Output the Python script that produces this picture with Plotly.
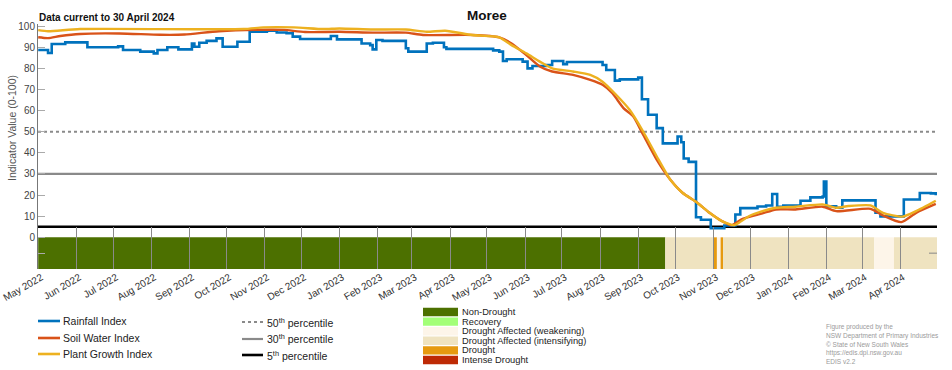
import plotly.graph_objects as go

# ---------------- data ----------------
rain_dates = ["2022-05-01", "2022-05-09", "2022-05-12", "2022-05-23", "2022-06-10", "2022-07-05",
              "2022-07-09", "2022-07-23", "2022-08-03", "2022-08-06", "2022-08-14", "2022-08-23",
              "2022-09-03", "2022-09-05", "2022-09-09", "2022-09-15", "2022-09-23", "2022-09-28",
              "2022-10-10", "2022-10-20", "2022-11-03", "2022-11-11", "2022-11-19", "2022-11-24",
              "2022-11-30", "2022-12-25", "2022-12-30", "2023-01-19", "2023-01-26", "2023-01-28",
              "2023-01-31", "2023-02-05", "2023-02-24", "2023-02-26", "2023-03-13", "2023-03-18",
              "2023-03-27", "2023-03-29", "2023-05-06", "2023-05-11", "2023-05-14", "2023-05-17",
              "2023-05-30", "2023-06-03", "2023-06-07", "2023-06-18", "2023-06-23", "2023-07-02",
              "2023-07-05", "2023-08-03", "2023-08-06", "2023-08-13", "2023-08-17", "2023-09-01",
              "2023-09-04", "2023-09-09", "2023-09-16", "2023-09-21", "2023-10-03", "2023-10-06",
              "2023-10-08", "2023-10-12", "2023-10-18", "2023-10-22", "2023-10-30", "2023-11-10",
              "2023-11-19", "2023-11-23", "2023-12-07", "2023-12-14", "2023-12-19", "2023-12-23",
              "2023-12-28", "2024-01-11", "2024-01-19", "2024-01-29", "2024-01-30", "2024-02-01",
              "2024-02-09", "2024-02-14", "2024-03-12", "2024-03-16", "2024-04-04", "2024-04-17",
              "2024-04-26", "2024-04-30"]
rain_vals = [88.7, 87.3, 91.5, 92.3, 90.0, 90.4,
             88.7, 87.9, 87.1, 88.7, 90.0, 89.0,
             91.8, 90.2, 92.1, 93.0, 94.2, 90.2,
             92.6, 97.3, 97.8, 97.0, 96.6, 95.0,
             93.9, 95.3, 93.7, 91.8, 91.0, 89.0,
             93.4, 93.0, 89.5, 87.9, 91.8, 92.1,
             90.0, 89.2, 88.5, 87.9, 83.5, 84.3,
             83.2, 80.0, 81.1, 81.6, 83.5, 82.0,
             83.0, 81.6, 79.2, 74.2, 74.8, 75.6,
             65.4, 58.0, 51.7, 44.5, 47.7, 45.0,
             37.3, 35.7, 9.5, 8.3, 4.3, 5.6,
             10.8, 13.8, 14.6, 15.1, 20.5, 14.5,
             15.1, 17.3, 18.9, 19.3, 26.4, 14.7,
             14.0, 17.5, 11.6, 9.9, 17.9, 21.0,
             20.8, 19.9]

soil_dates = ["2022-05-01", "2022-05-09", "2022-05-19", "2022-06-04", "2022-07-06", "2022-08-08",
              "2022-08-28", "2022-09-25", "2022-11-05", "2022-11-17", "2022-12-04", "2023-01-01",
              "2023-01-28", "2023-02-24", "2023-03-10", "2023-04-19", "2023-05-11", "2023-05-21",
              "2023-06-02", "2023-06-13", "2023-06-23", "2023-07-10", "2023-07-24", "2023-08-03",
              "2023-08-11", "2023-08-20", "2023-08-28", "2023-09-05", "2023-09-16", "2023-09-27",
              "2023-10-07", "2023-10-19", "2023-10-29", "2023-11-08", "2023-11-16", "2023-11-24",
              "2023-12-11", "2023-12-22", "2024-01-07", "2024-01-29", "2024-02-09", "2024-03-08",
              "2024-03-18", "2024-04-02", "2024-04-14", "2024-04-30"]
soil_vals = [94.7, 94.3, 95.3, 96.3, 96.5, 95.9,
             96.0, 97.6, 98.3, 98.2, 97.2, 97.3,
             96.9, 96.9, 95.8, 95.8, 94.7, 91.8,
             86.3, 80.9, 78.5, 76.9, 74.5, 72.2,
             68.2, 61.2, 57.2, 48.6, 36.8, 27.4,
             21.1, 16.4, 11.6, 7.7, 5.7, 8.5,
             11.3, 13.2, 13.2, 14.5, 12.4, 13.5,
             10.4, 7.2, 11.6, 15.8]

plant_dates = ["2022-05-01", "2022-05-09", "2022-06-04", "2022-10-15", "2022-10-31", "2022-11-25",
               "2022-12-19", "2023-01-01", "2023-01-28", "2023-02-24", "2023-03-13", "2023-03-28",
               "2023-04-19", "2023-05-11", "2023-05-21", "2023-06-02", "2023-06-13", "2023-06-23",
               "2023-07-10", "2023-07-24", "2023-08-03", "2023-08-14", "2023-08-25", "2023-09-05",
               "2023-09-16", "2023-09-27", "2023-10-07", "2023-10-19", "2023-10-29", "2023-11-08",
               "2023-11-18", "2023-11-22", "2023-11-30", "2023-12-11", "2023-12-22", "2024-01-07",
               "2024-01-29", "2024-02-09", "2024-02-19", "2024-03-08", "2024-03-18", "2024-04-03",
               "2024-04-14", "2024-04-30"]
plant_vals = [98.1, 97.6, 98.6, 98.6, 99.4, 99.4,
              98.6, 98.9, 98.4, 98.4, 97.3, 97.8,
              95.8, 94.7, 91.0, 87.1, 83.2, 80.0,
              78.5, 76.9, 73.7, 67.5, 60.4, 50.1,
              38.4, 27.4, 21.1, 16.4, 11.6, 7.7,
              5.7, 6.9, 10.0, 12.4, 14.0, 14.5,
              15.6, 14.0, 14.8, 15.1, 11.6, 9.8,
              12.4, 17.3]

drought_starts = ["2022-05-01", "2023-09-23", "2023-11-01", "2023-11-04", "2023-11-07",
                  "2023-11-09", "2024-03-11", "2024-03-27"]
drought_ends = ["2023-09-23", "2023-11-01", "2023-11-04", "2023-11-07", "2023-11-09",
                "2024-03-11", "2024-03-27", "2024-05-01"]
drought_cats = [0, 3, 4, 2, 4, 3, 2, 3]

category_names = ["Non-Drought", "Recovery", "Drought Affected (weakening)",
                  "Drought Affected (intensifying)", "Drought", "Intense Drought"]
category_colors = ["#4C7000", "#A3FF78", "#FDF5E9", "#EFE3C0", "#E69A10", "#BE2A05"]

percentile_values = [50, 30, 5]
percentile_labels = ["50<sup>th</sup> percentile", "30<sup>th</sup> percentile",
                     "5<sup>th</sup> percentile"]

series_names = ["Rainfall Index", "Soil Water Index", "Plant Growth Index"]
series_colors = ["#0072BD", "#D95319", "#EDB120"]

month_ticks = ["2022-05-01", "2022-06-01", "2022-07-01", "2022-08-01", "2022-09-01", "2022-10-01",
               "2022-11-01", "2022-12-01", "2023-01-01", "2023-02-01", "2023-03-01", "2023-04-01",
               "2023-05-01", "2023-06-01", "2023-07-01", "2023-08-01", "2023-09-01", "2023-10-01",
               "2023-11-01", "2023-12-01", "2024-01-01", "2024-02-01", "2024-03-01", "2024-04-01"]
month_labels = ["May 2022", "Jun 2022", "Jul 2022", "Aug 2022", "Sep 2022", "Oct 2022",
                "Nov 2022", "Dec 2022", "Jan 2023", "Feb 2023", "Mar 2023", "Apr 2023",
                "May 2023", "Jun 2023", "Jul 2023", "Aug 2023", "Sep 2023", "Oct 2023",
                "Nov 2023", "Dec 2023", "Jan 2024", "Feb 2024", "Mar 2024", "Apr 2024"]

y_ticks = [-7.5, 0, 10, 20, 30, 40, 50, 60, 70, 80, 90, 100]
y_labels = ["", "0", "10", "20", "30", "40", "50", "60", "70", "80", "90", "100"]

credit_lines = ["Figure produced by the", "NSW Department of Primary Industries",
                "\u00a9 State of New South Wales", "https://edis.dpi.nsw.gov.au", "EDIS v2.2"]

# ---------------- layout helpers ----------------
W, H = 952, 370
ML, MR, MT, MB = 38, 15, 24, 101
PW, PH = W - ML - MR, H - MT - MB
FONT = "Liberation Sans, Arial, sans-serif"


def px(x):
    return (x - ML) / PW


def py(y):
    return (H - MB - y) / PH


fig = go.Figure()

fig.add_trace(go.Scatter(x=rain_dates, y=rain_vals, mode="lines", line_shape="hv",
                         line=dict(color=series_colors[0], width=2.6), name=series_names[0],
                         showlegend=False))
fig.add_trace(go.Scatter(x=soil_dates, y=soil_vals, mode="lines", line_shape="spline",
                         line=dict(color=series_colors[1], width=2.4, smoothing=0.6),
                         name=series_names[1], showlegend=False))
fig.add_trace(go.Scatter(x=plant_dates, y=plant_vals, mode="lines", line_shape="spline",
                         line=dict(color=series_colors[2], width=2.4, smoothing=0.6),
                         name=series_names[2], showlegend=False))

shapes = []
for s, e, c in zip(drought_starts, drought_ends, drought_cats):
    shapes.append(dict(type="rect", xref="x", yref="y", x0=s, x1=e, y0=-15, y1=0,
                       fillcolor=category_colors[c], line=dict(width=0), layer="below"))

pct_styles = [dict(color="#8a8a8a", width=2, dash="dot"),
              dict(color="#8a8a8a", width=2.2),
              dict(color="#000000", width=2.6)]
for v, st in zip(percentile_values, pct_styles):
    shapes.append(dict(type="line", xref="paper", yref="y", x0=0, x1=1, y0=v, y1=v,
                       line=st, layer="below"))

shapes.append(dict(type="line", xref="paper", yref="y", x0=px(929), x1=1, y0=-7.5, y1=-7.5,
                   line=dict(color="#888888", width=1)))

annotations = []
leg_rows = [321, 338, 354]
for name, col, yy in zip(series_names, series_colors, leg_rows):
    shapes.append(dict(type="line", xref="paper", yref="paper", x0=px(38), x1=px(60),
                       y0=py(yy), y1=py(yy), line=dict(color=col, width=2.6)))
    annotations.append(dict(xref="paper", yref="paper", x=px(61), y=py(yy), text=name,
                            showarrow=False, xanchor="left", yanchor="middle",
                            font=dict(size=10.5, color="#222222", family=FONT)))
for lab, st, yy in zip(percentile_labels, pct_styles, [322, 339, 355]):
    shapes.append(dict(type="line", xref="paper", yref="paper", x0=px(242), x1=px(263),
                       y0=py(yy), y1=py(yy), line=st))
    annotations.append(dict(xref="paper", yref="paper", x=px(265), y=py(yy), text=lab,
                            showarrow=False, xanchor="left", yanchor="middle",
                            font=dict(size=10.5, color="#222222", family=FONT)))
cat_rows = [312, 321.6, 331.2, 340.8, 350.4, 360]
for name, col, yy in zip(category_names, category_colors, cat_rows):
    shapes.append(dict(type="rect", xref="paper", yref="paper", x0=px(423), x1=px(458),
                       y0=py(yy + 4.2), y1=py(yy - 4.2), fillcolor=col, line=dict(width=0)))
    annotations.append(dict(xref="paper", yref="paper", x=px(460), y=py(yy), text=name,
                            showarrow=False, xanchor="left", yanchor="middle",
                            font=dict(size=9.3, color="#222222", family=FONT)))
for i, line in enumerate(credit_lines):
    annotations.append(dict(xref="paper", yref="paper", x=px(824), y=py(327 + i * 8.6),
                            text=line, showarrow=False, xanchor="left", yanchor="middle",
                            font=dict(size=6.5, color="#9a9a9a", family=FONT)))
annotations.append(dict(xref="paper", yref="paper", x=px(487), y=py(15), text="<b>Moree</b>",
                        showarrow=False, xanchor="center", yanchor="middle",
                        font=dict(size=13.5, color="#111111", family=FONT)))
annotations.append(dict(xref="paper", yref="paper", x=px(37), y=py(17),
                        text="<b>Data current to 30 April 2024</b>",
                        showarrow=False, xanchor="left", yanchor="middle",
                        font=dict(size=10, color="#111111", family=FONT)))
annotations.append(dict(xref="paper", yref="paper", x=px(12), y=py(128),
                        text="Indicator Value (0-100)", textangle=-90,
                        showarrow=False, xanchor="center", yanchor="middle",
                        font=dict(size=10.5, color="#555555", family=FONT)))

fig.update_layout(
    width=W, height=H,
    margin=dict(l=ML, r=MR, t=MT, b=MB, pad=0, autoexpand=False),
    paper_bgcolor="white", plot_bgcolor="white",
    showlegend=False,
    shapes=shapes, annotations=annotations,
    font=dict(family=FONT, color="#333333"),
    xaxis=dict(range=["2022-04-30 20:00", "2024-05-01"], tickvals=month_ticks,
               ticktext=month_labels, automargin=False, ticklabeloverflow="allow",
               ticklabelshift=3,
               tickangle=-30, ticks="inside", ticklen=42, tickcolor="#8a8a8a", tickwidth=1,
               showgrid=False, zeroline=False, showline=False,
               tickfont=dict(size=10, color="#333333", family=FONT)),
    yaxis=dict(range=[-15, 101], tickvals=y_ticks, ticktext=y_labels, automargin=False,
               ticks="inside", ticklen=7, tickcolor="#aaaaaa", tickwidth=1,
               showgrid=False, zeroline=False, showline=True, linecolor="#777777", linewidth=1,
               tickfont=dict(size=10, color="#444444", family=FONT)),
)

fig.write_html("out.html", config={"displayModeBar": False},
               post_script="document.body.style.margin='0px';document.body.style.overflow='hidden';")
